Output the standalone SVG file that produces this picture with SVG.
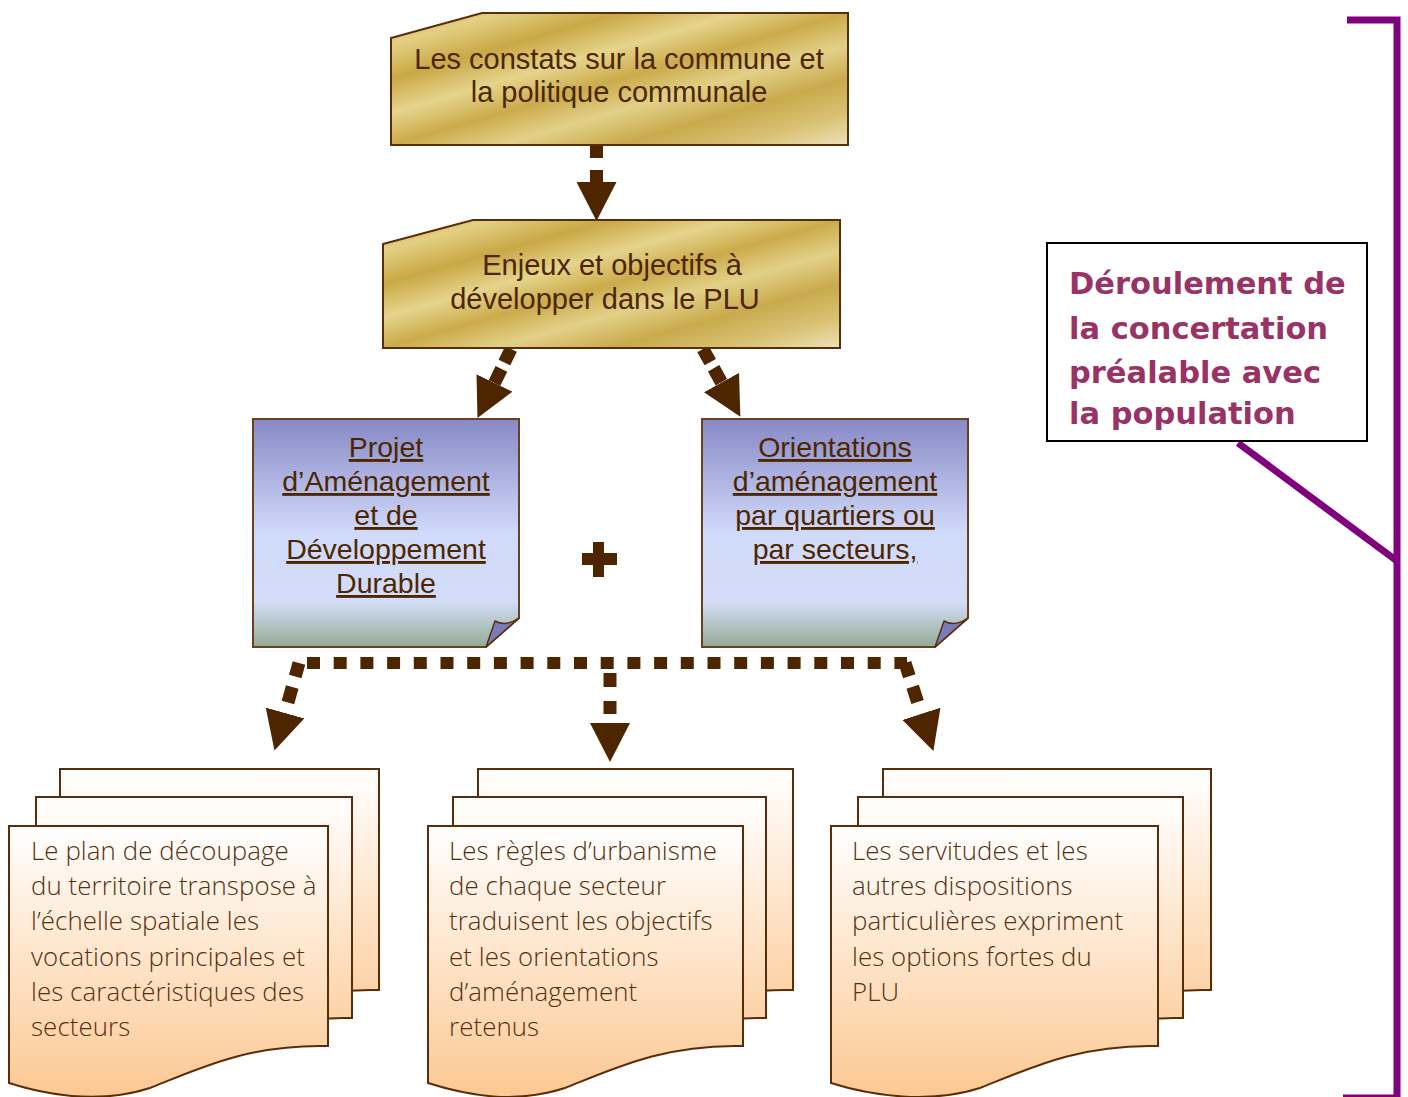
<svg xmlns="http://www.w3.org/2000/svg" width="1408" height="1097" viewBox="0 0 1408 1097">
  <style>
    .gold { fill: url(#goldGrad); stroke: #5a2d0a; stroke-width: 2; }
    .blue { fill: url(#blueGrad); stroke: #6b3f1f; stroke-width: 2; }
    .fold { fill: #7a7cb8; stroke: #5a2d0a; stroke-width: 1.5; stroke-linejoin: round; }
    .sheet { fill: url(#peachGrad); stroke: #5a2d0a; stroke-width: 2; }
    .t-main { font-family: "Liberation Sans", Arial, sans-serif; font-size: 29px; fill: #4d2600; text-anchor: middle; }
    .t-link { font-family: "Liberation Sans", Arial, sans-serif; font-size: 28.5px; fill: #4d2600; text-anchor: middle; text-decoration: underline; }
    .t-doc { font-family: "Open Sans", "Lato", sans-serif; font-weight: 300; font-size: 25.8px; letter-spacing: 0.1px; fill: #553010; }
    .t-note { font-family: "DejaVu Sans", "Liberation Sans", sans-serif; font-weight: bold; font-size: 30.5px; fill: #993366; }
    .dash { fill: none; stroke: #4d2600; stroke-width: 13; marker-end: url(#head); }
    .bracket { fill: none; stroke: #800080; stroke-width: 7; }
  </style>
  <defs>
    <linearGradient id="goldGrad" x1="0" y1="0" x2="1" y2="1">
      <stop offset="0" stop-color="#cfb155"/>
      <stop offset="0.12" stop-color="#e3cf83"/>
      <stop offset="0.25" stop-color="#c9a845"/>
      <stop offset="0.38" stop-color="#e5d48c"/>
      <stop offset="0.5" stop-color="#cbab4a"/>
      <stop offset="0.62" stop-color="#e2d088"/>
      <stop offset="0.75" stop-color="#c9aa4c"/>
      <stop offset="0.88" stop-color="#d9c275"/>
      <stop offset="1" stop-color="#ebe2b8"/>
    </linearGradient>
    <linearGradient id="blueGrad" x1="0" y1="0" x2="0" y2="1">
      <stop offset="0" stop-color="#8789c6"/>
      <stop offset="0.5" stop-color="#d0dafa"/>
      <stop offset="0.8" stop-color="#d3ddf8"/>
      <stop offset="1" stop-color="#94ab94"/>
    </linearGradient>
    <linearGradient id="peachGrad" x1="0" y1="0" x2="0" y2="1">
      <stop offset="0" stop-color="#ffffff"/>
      <stop offset="1" stop-color="#fcc892"/>
    </linearGradient>
    <marker id="head" markerUnits="userSpaceOnUse" viewBox="0 0 39 40" markerWidth="39" markerHeight="40" refX="0" refY="20" orient="auto">
      <path d="M0,0 L39,20 L0,40 Z" fill="#4d2600"/>
    </marker>
  </defs>

  <!-- connectors -->
  <g id="connectors">
    <path class="dash" d="M596.5,146 V182" stroke-dasharray="12 12"/>
    <path class="dash" d="M511,349 L494.5,383" stroke-dasharray="15 7 16 10"/>
    <path class="dash" d="M703,349 L721.5,382.5" stroke-dasharray="15 7 16 10"/>
    <path fill="none" stroke="#4d2600" stroke-width="12" d="M307,663 H907" stroke-dasharray="13 13.7"/>
    <path class="dash" d="M299,663 L285,713" stroke-dasharray="14 11 16 20"/>
    <path class="dash" d="M610,673 V723" stroke-dasharray="14 14 13 20"/>
    <path class="dash" d="M905,663 L921.4,713.8" stroke-dasharray="14 11 16 20"/>
  </g>

  <!-- top: findings -->
  <g id="constats">
    <path class="gold" d="M391,38 L482,13 H848 V145 H391 Z"/>
    <text class="t-main" x="619" y="69">Les constats sur la commune et</text>
    <text class="t-main" x="619" y="102">la politique communale</text>
  </g>

  <g id="enjeux">
    <path class="gold" d="M383,244 L473,220 H840 V348 H383 Z"/>
    <text class="t-main" x="612" y="275">Enjeux et objectifs à</text>
    <text class="t-main" x="605" y="309">développer dans le PLU</text>
  </g>

  <!-- the two planning documents -->
  <g id="padd">
    <path class="blue" d="M253,419 H519 V618 L486,647 H253 Z"/>
    <path class="fold" d="M519,618 Q506,627 495,621 L486,647 Z"/>
    <text class="t-link" x="386" y="457">Projet</text>
    <text class="t-link" x="386" y="491">d’Aménagement</text>
    <text class="t-link" x="386" y="525">et de</text>
    <text class="t-link" x="386" y="559">Développement</text>
    <text class="t-link" x="386" y="593">Durable</text>
  </g>

  <g id="plus">
    <path d="M593,542 H604 V553 H617 V565 H604 V577 H593 V565 H582 V553 H593 Z" fill="#4d2600"/>
  </g>

  <g id="orientations">
    <path class="blue" d="M702,419 H968 V618 L935,647 H702 Z"/>
    <path class="fold" d="M968,618 Q955,627 944,621 L935,647 Z"/>
    <text class="t-link" x="835" y="457">Orientations</text>
    <text class="t-link" x="835" y="491">d’aménagement</text>
    <text class="t-link" x="835" y="525">par quartiers ou</text>
    <text class="t-link" x="835" y="559">par secteurs,</text>
  </g>

  <!-- resulting regulatory pieces -->
  <g id="plan-decoupage">
    <path class="sheet" d="M60,769 H379 V990 C301,988 251,1012 201,1032 C151,1048 101,1040 60,1027 Z"/>
    <path class="sheet" d="M36,797 H352 V1018 C274,1016 224,1040 174,1060 C124,1076 77,1068 36,1055 Z"/>
    <path class="sheet" d="M9,826 H328 V1046 C250,1044 200,1068 150,1088 C100,1104 50,1096 9,1083 Z"/>
    <text class="t-doc" x="31" y="860">Le plan de découpage</text>
    <text class="t-doc" x="31" y="895">du territoire transpose à</text>
    <text class="t-doc" x="31" y="930">l’échelle spatiale les</text>
    <text class="t-doc" x="31" y="966">vocations principales et</text>
    <text class="t-doc" x="31" y="1001">les caractéristiques des</text>
    <text class="t-doc" x="31" y="1036">secteurs</text>
  </g>

  <g id="regles">
    <path class="sheet" d="M478,769 H793 V990 C715,988 665,1012 615,1032 C565,1048 519,1040 478,1027 Z"/>
    <path class="sheet" d="M453,797 H766 V1018 C688,1016 638,1040 588,1060 C538,1076 494,1068 453,1055 Z"/>
    <path class="sheet" d="M428,826 H743 V1046 C665,1044 615,1068 565,1088 C515,1104 469,1096 428,1083 Z"/>
    <text class="t-doc" x="449" y="860">Les règles d’urbanisme</text>
    <text class="t-doc" x="449" y="895">de chaque secteur</text>
    <text class="t-doc" x="449" y="930">traduisent les objectifs</text>
    <text class="t-doc" x="449" y="966">et les orientations</text>
    <text class="t-doc" x="449" y="1001">d’aménagement</text>
    <text class="t-doc" x="449" y="1036">retenus</text>
  </g>

  <g id="servitudes">
    <path class="sheet" d="M883,769 H1211 V990 C1133,988 1083,1012 1033,1032 C983,1048 924,1040 883,1027 Z"/>
    <path class="sheet" d="M858,797 H1183 V1018 C1105,1016 1055,1040 1005,1060 C955,1076 899,1068 858,1055 Z"/>
    <path class="sheet" d="M831,826 H1158 V1046 C1080,1044 1030,1068 980,1088 C930,1104 872,1096 831,1083 Z"/>
    <text class="t-doc" x="852" y="860">Les servitudes et les</text>
    <text class="t-doc" x="852" y="895">autres dispositions</text>
    <text class="t-doc" x="852" y="930">particulières expriment</text>
    <text class="t-doc" x="852" y="966">les options fortes du</text>
    <text class="t-doc" x="852" y="1001">PLU</text>
  </g>

  <!-- consultation bracket and callout -->
  <g id="concertation">
    <path class="bracket" d="M1347,20 H1397 V1098 H1343"/>
    <path class="bracket" d="M1238,443 L1397,561"/>
    <rect x="1047" y="243" width="320" height="198" fill="#ffffff" stroke="#000000" stroke-width="2"/>
    <text class="t-note" x="1069" y="294">Déroulement de</text>
    <text class="t-note" x="1069" y="339">la concertation</text>
    <text class="t-note" x="1069" y="383">préalable avec</text>
    <text class="t-note" x="1069" y="424">la population</text>
  </g>
</svg>
